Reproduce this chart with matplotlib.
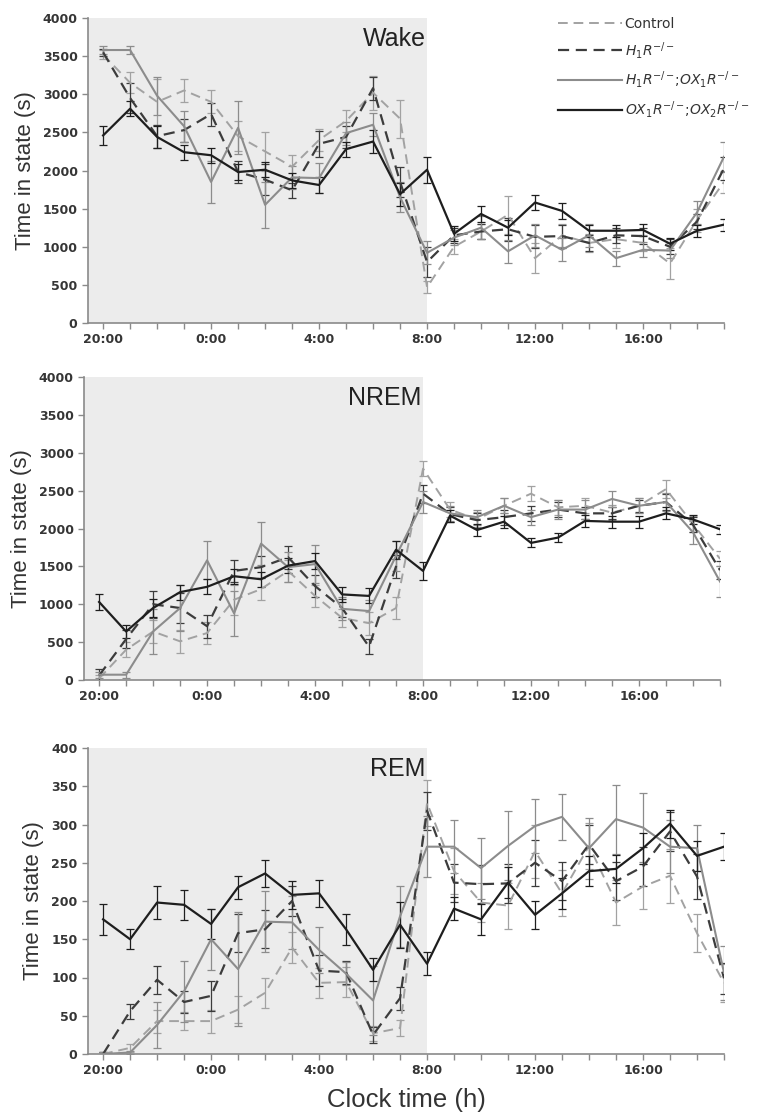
import numpy as np
import matplotlib
matplotlib.use("Agg")
import matplotlib.pyplot as plt
from matplotlib.lines import Line2D

plt.rcParams['font.family'] = ['Liberation Sans', 'DejaVu Sans']
plt.rcParams['mathtext.fontset'] = 'dejavusans'

hours = list(range(24))
tick_labels = {0: '20:00', 4: '0:00', 8: '4:00', 12: '8:00', 16: '12:00', 20: '16:00'}
series_names = ['Control', r'$H_1R^{-/-}$', r'$H_1R^{-/-}\!;\!OX_1R^{-/-}$',
                r'$OX_1R^{-/-}\!;\!OX_2R^{-/-}$']

# ---- Wake ----
wake_ctrl = [3520, 3150, 2900, 3050, 2900, 2450, 2250, 2050, 2400, 2650, 3020, 2680, 470,
             1000, 1200, 1420, 850, 1150, 1050, 1100, 1050, 780, 1350, 1850]
wake_h1 = [3550, 2950, 2450, 2530, 2740, 1980, 1880, 1740, 2350, 2440, 3080, 1850, 800,
           1150, 1200, 1230, 1130, 1140, 1050, 1150, 1140, 1000, 1330, 2030]
wake_h1ox1 = [3580, 3580, 2980, 2580, 1850, 2560, 1550, 1910, 1900, 2490, 2600, 1650, 920,
              1120, 1250, 940, 1150, 960, 1150, 850, 960, 950, 1450, 2180]
wake_ox12 = [2460, 2810, 2440, 2240, 2200, 1980, 2010, 1870, 1810, 2280, 2380, 1690, 2010,
             1170, 1430, 1250, 1580, 1470, 1210, 1210, 1220, 1040, 1210, 1290]
wake_ctrl_err = [60, 140, 300, 150, 150, 200, 250, 150, 150, 150, 220, 250, 80,
                 100, 100, 250, 200, 150, 120, 120, 100, 200, 150, 150]
wake_h1_err = [50, 200, 150, 150, 150, 150, 200, 100, 170, 150, 150, 200, 200,
               100, 100, 150, 150, 150, 100, 100, 100, 100, 100, 150]
wake_h1ox1_err = [50, 50, 250, 200, 280, 350, 300, 150, 200, 150, 150, 200, 150,
                  100, 150, 150, 150, 150, 150, 100, 100, 100, 150, 200]
wake_ox12_err = [120, 100, 150, 100, 100, 100, 100, 100, 100, 100, 150, 150, 170,
                 100, 100, 100, 100, 100, 80, 80, 80, 80, 80, 80]

# ---- NREM ----
nrem_ctrl = [20, 400, 640, 510, 620, 1060, 1200, 1440, 1110, 820, 750, 950, 2790,
             2250, 2120, 2300, 2460, 2280, 2300, 2210, 2300, 2520, 2060, 1600]
nrem_h1 = [60, 540, 1000, 950, 710, 1440, 1490, 1620, 1240, 950, 440, 1500, 2460,
           2190, 2110, 2150, 2200, 2250, 2200, 2200, 2300, 2350, 2050, 1450]
nrem_h1ox1 = [70, 70, 640, 950, 1580, 880, 1800, 1490, 1530, 940, 910, 1640, 2350,
              2200, 2150, 2300, 2150, 2250, 2250, 2390, 2300, 2350, 1950, 1300]
nrem_ox12 = [1030, 640, 950, 1160, 1230, 1370, 1330, 1510, 1570, 1130, 1110, 1720, 1440,
             2170, 1980, 2090, 1810, 1880, 2100, 2090, 2090, 2200, 2120, 1990]
nrem_ctrl_err = [50, 100, 150, 150, 150, 200, 150, 150, 150, 120, 150, 150, 100,
                 100, 100, 100, 100, 100, 100, 100, 100, 120, 100, 100]
nrem_h1_err = [80, 120, 180, 200, 150, 150, 150, 150, 150, 120, 100, 150, 120,
               100, 100, 100, 100, 100, 80, 80, 80, 100, 100, 120]
nrem_h1ox1_err = [40, 40, 300, 300, 250, 300, 280, 200, 250, 150, 150, 200, 150,
                  100, 100, 100, 100, 120, 120, 100, 100, 120, 150, 200]
nrem_ox12_err = [100, 80, 120, 100, 100, 100, 100, 100, 100, 100, 100, 120, 120,
                 80, 80, 80, 60, 60, 80, 80, 80, 80, 60, 60]

# ---- REM ----
rem_ctrl = [0, 8, 43, 43, 43, 58, 80, 139, 93, 94, 27, 34, 328,
            239, 198, 194, 265, 210, 272, 198, 219, 233, 158, 93]
rem_h1 = [0, 56, 97, 68, 76, 158, 163, 200, 109, 107, 25, 73, 318,
          224, 222, 223, 250, 226, 274, 226, 245, 291, 232, 99]
rem_h1ox1 = [0, 2, 38, 82, 150, 111, 173, 172, 136, 105, 70, 180, 271,
             271, 243, 272, 298, 310, 269, 307, 296, 271, 269, 106]
rem_ox12 = [176, 150, 198, 195, 170, 218, 236, 208, 210, 163, 110, 169, 118,
            190, 176, 224, 182, 210, 239, 242, 269, 301, 259, 271]
rem_ctrl_err = [2, 5, 15, 12, 15, 18, 20, 20, 20, 20, 10, 10, 30,
                30, 25, 30, 35, 30, 30, 30, 30, 35, 25, 25]
rem_h1_err = [2, 10, 18, 15, 20, 25, 25, 20, 20, 15, 10, 15, 25,
              25, 25, 25, 30, 25, 25, 25, 25, 25, 30, 20]
rem_h1ox1_err = [2, 2, 30, 40, 40, 75, 40, 35, 30, 15, 45, 40, 40,
                 35, 40, 45, 35, 30, 40, 45, 45, 35, 30, 35]
rem_ox12_err = [20, 13, 22, 20, 20, 15, 18, 18, 18, 20, 15, 30, 15,
                15, 20, 20, 18, 20, 20, 18, 20, 18, 20, 18]

styles = [
    dict(color='#a2a2a2', ls=(0, (5, 3)), lw=1.4),
    dict(color='#3c3c3c', ls=(0, (5, 3)), lw=1.6),
    dict(color='#8c8c8c', ls='-', lw=1.5),
    dict(color='#1e1e1e', ls='-', lw=1.6),
]

panels = [
    ('Wake', [wake_ctrl, wake_h1, wake_h1ox1, wake_ox12],
     [wake_ctrl_err, wake_h1_err, wake_h1ox1_err, wake_ox12_err], 4000, 500,
     [88, 18, 724, 323]),
    ('NREM', [nrem_ctrl, nrem_h1, nrem_h1ox1, nrem_ox12],
     [nrem_ctrl_err, nrem_h1_err, nrem_h1ox1_err, nrem_ox12_err], 4000, 500,
     [84, 377, 720, 680]),
    ('REM', [rem_ctrl, rem_h1, rem_h1ox1, rem_ox12],
     [rem_ctrl_err, rem_h1_err, rem_h1ox1_err, rem_ox12_err], 400, 50,
     [88, 748, 724, 1054]),
]

W, H = 760, 1115
fig = plt.figure(figsize=(W / 100, H / 100), dpi=100)

tick_font = dict(family='DejaVu Sans', weight='bold', size=9)

axes = []
for name, vals, errs, ymax, ystep, (x0, y0, x1, y1) in panels:
    ax = fig.add_axes([x0 / W, 1 - y1 / H, (x1 - x0) / W, (y1 - y0) / H])
    axes.append(ax)
    ax.set_xlim(-0.56, 23)
    ax.set_ylim(0, ymax)
    ax.axvspan(-0.56, 12, color='#ececec', zorder=0, lw=0)
    for v, e, st in zip(vals, errs, styles):
        ax.errorbar(hours, v, yerr=e, color=st['color'], ls=st['ls'], lw=st['lw'],
                    elinewidth=0.9, capsize=3, capthick=0.9, zorder=3)
    ax.set_xticks(hours)
    ax.set_xticklabels([tick_labels.get(h, '') for h in hours])
    yt = np.arange(0, ymax + 1, ystep)
    ax.set_yticks(yt)
    ax.set_yticklabels([str(int(t)) for t in yt])
    for s in ['top', 'right']:
        ax.spines[s].set_visible(False)
    for s in ['left', 'bottom']:
        ax.spines[s].set_color('#8a8a8a')
        ax.spines[s].set_linewidth(1.2)
    ax.tick_params(axis='both', color='#8a8a8a', labelcolor='#353535',
                   length=4, width=1.0, direction='out')
    ax.tick_params(axis='x', pad=3)
    for lab in ax.get_xticklabels() + ax.get_yticklabels():
        lab.set_fontproperties(tick_font)
    ax.set_ylabel('Time in state (s)', fontsize=16, color='#333333', labelpad=5)
    ax.text(11.95, ymax * 0.93, name, ha='right', va='center', fontsize=18,
            color='#222222')

axes[2].set_xlabel('Clock time (h)', fontsize=18.5, color='#333333', labelpad=8)

handles = [Line2D([0], [0], color=st['color'], ls=st['ls'], lw=st['lw']) for st in styles]
leg = fig.legend(handles, series_names, loc='upper left', bbox_to_anchor=(558 / W, 1 - 17 / H),
                 frameon=False, handlelength=4.6, handletextpad=0.2,
                 labelspacing=0.62, borderaxespad=0, borderpad=0,
                 prop=dict(family='DejaVu Sans', size=10))
for t in leg.get_texts():
    t.set_color('#333333')

fig.savefig('out.png', dpi=100)
